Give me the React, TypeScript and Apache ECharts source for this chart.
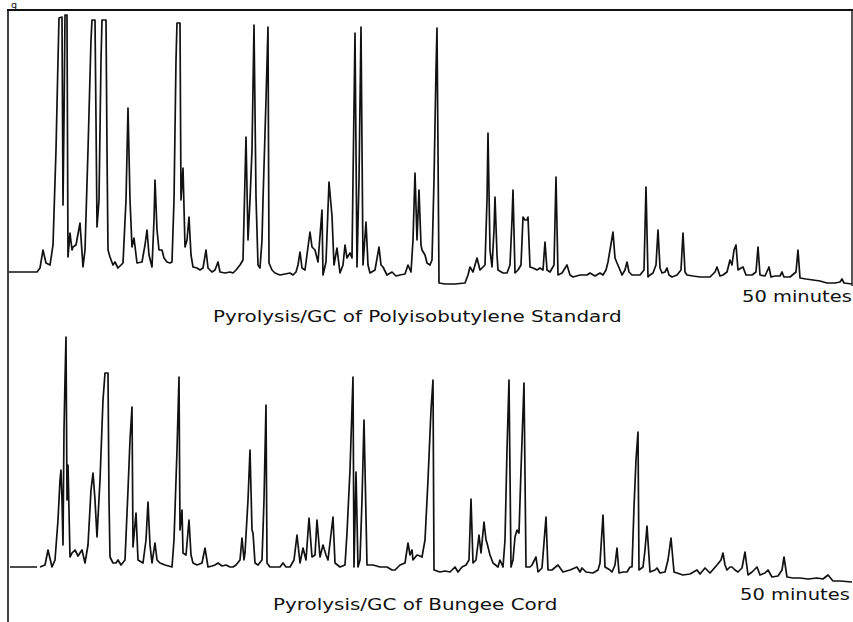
import React, { useEffect, useRef } from "react";
import * as echarts from "echarts";

// Retention time (minutes) and detector response (arbitrary units)
const topTrace: [number, number][] = [
  [0, 7.2], [1.68, 7.2], [1.86, 8.8], [2.04, 16], [2.22, 10.8], [2.46, 10], [2.64, 18], [2.82, 56], [2.94, 92], [3.0, 108.8],
  [3.18, 109.2], [3.24, 34], [3.3, 68], [3.36, 110], [3.48, 110], [3.54, 13.2], [3.66, 22.8], [3.78, 16], [3.84, 17.2], [4.02, 18],
  [4.26, 26.8], [4.44, 9.2], [4.56, 16], [4.74, 56], [4.92, 100], [4.98, 108], [5.16, 108], [5.22, 68], [5.28, 25.2], [5.4, 36],
  [5.52, 92], [5.58, 108], [5.82, 108], [5.88, 56], [5.94, 16], [6.06, 13.2], [6.24, 10], [6.36, 11.2], [6.54, 8.8], [6.72, 10],
  [6.84, 10.8], [7.02, 36], [7.14, 72.8], [7.26, 36], [7.38, 17.2], [7.5, 20.8], [7.68, 10.8], [7.98, 11.2], [8.16, 18], [8.28, 24],
  [8.4, 14], [8.58, 9.2], [8.7, 28], [8.76, 44], [8.88, 24], [9.0, 16], [9.18, 16], [9.3, 12.8], [9.48, 11.2], [9.66, 10.8],
  [9.78, 11.2], [9.9, 36], [10.02, 92], [10.08, 106.8], [10.26, 106.8], [10.32, 36], [10.44, 48.8], [10.56, 17.2], [10.68, 20], [10.8, 29.2],
  [10.92, 14], [11.04, 9.2], [11.28, 8.8], [11.46, 8], [11.64, 8.8], [11.82, 16], [11.94, 8.8], [12.18, 7.2], [12.36, 8], [12.54, 11.2],
  [12.66, 7.2], [12.96, 6.8], [13.26, 7.2], [13.44, 6.8], [13.62, 8], [13.86, 10], [14.04, 12], [14.22, 61.2], [14.34, 20], [14.46, 36],
  [14.58, 56], [14.7, 106], [14.82, 37.2], [14.94, 10], [15.06, 8.8], [15.18, 20], [15.24, 36], [15.42, 76], [15.54, 105.2], [15.6, 10.8],
  [15.78, 8], [15.96, 6.8], [16.26, 6], [16.56, 6.4], [16.86, 6.8], [17.04, 6], [17.22, 7.2], [17.34, 10], [17.46, 15.2], [17.58, 8.8],
  [17.76, 8], [17.94, 17.2], [18.06, 23.2], [18.18, 17.2], [18.36, 16], [18.54, 11.2], [18.78, 32], [18.84, 6], [19.02, 11.2], [19.2, 43.2],
  [19.38, 29.6], [19.5, 10], [19.68, 16.8], [19.86, 6.8], [20.04, 10], [20.16, 18], [20.28, 12.8], [20.46, 14.8], [20.58, 12.8], [20.64, 44],
  [20.76, 102.8], [20.88, 9.2], [21.0, 44], [21.12, 105.2], [21.24, 10], [21.42, 27.2], [21.54, 10], [21.66, 6.8], [21.96, 8], [22.2, 17.2],
  [22.32, 10], [22.44, 9.2], [22.68, 6], [22.98, 7.2], [23.22, 5.6], [23.46, 6], [23.76, 6.4], [23.94, 10], [24.12, 7.2], [24.24, 20],
  [24.36, 46.8], [24.48, 20], [24.6, 40], [24.72, 18], [24.78, 16], [24.96, 14], [25.08, 10.8], [25.26, 10], [25.38, 12], [25.5, 44],
  [25.62, 88], [25.68, 104.8], [25.74, 56], [25.8, 2.8], [26.16, 2.4], [26.76, 2.4], [27.36, 2.8], [27.54, 6], [27.66, 9.2], [27.84, 7.2],
  [28.08, 12.8], [28.26, 8], [28.56, 10], [28.68, 36], [28.74, 62.8], [28.86, 16], [28.98, 9.2], [29.1, 24], [29.16, 37.2], [29.28, 14],
  [29.34, 8], [29.64, 6.8], [29.88, 6.8], [30.06, 10], [30.18, 28], [30.24, 40], [30.36, 6.8], [30.54, 8], [30.72, 10], [30.84, 29.2],
  [30.96, 28], [31.08, 28], [31.14, 29.2], [31.26, 9.2], [31.44, 8.8], [31.68, 8], [31.86, 8.8], [32.04, 8], [32.16, 19.2], [32.28, 8],
  [32.46, 7.2], [32.7, 10], [32.82, 45.2], [32.94, 6], [33.18, 6.8], [33.48, 10], [33.66, 6], [33.84, 5.2], [34.26, 6], [34.68, 6],
  [34.86, 6.8], [35.16, 5.6], [35.46, 6.8], [35.64, 6], [35.82, 8], [35.94, 11.2], [36.06, 16], [36.24, 23.2], [36.36, 12.8], [36.48, 10.8],
  [36.66, 8], [36.78, 6], [36.96, 8], [37.08, 11.2], [37.2, 7.2], [37.38, 6], [37.86, 6], [38.1, 8], [38.22, 41.2], [38.34, 5.2],
  [38.46, 6], [38.64, 6.8], [38.82, 10], [38.94, 24], [39.06, 8.8], [39.18, 6.8], [39.36, 7.2], [39.48, 8.8], [39.6, 6], [39.78, 5.2],
  [40.08, 6], [40.32, 8], [40.44, 22.8], [40.56, 7.2], [40.68, 6], [41.04, 5.6], [41.46, 5.2], [42.06, 5.2], [42.36, 7.2], [42.48, 9.2],
  [42.66, 5.6], [42.84, 6], [43.08, 7.2], [43.26, 12], [43.38, 10], [43.5, 16], [43.62, 18], [43.74, 8], [43.92, 8.8], [44.04, 9.2],
  [44.22, 6], [44.34, 6], [44.58, 6], [44.82, 7.2], [44.94, 17.2], [45.06, 6], [45.36, 5.6], [45.6, 9.2], [45.72, 5.2], [45.96, 5.6],
  [46.26, 5.6], [46.38, 7.2], [46.5, 5.2], [46.86, 5.2], [47.22, 7.2], [47.34, 16], [47.46, 4.8], [47.82, 4.4], [48.24, 4], [48.66, 3.6],
  [49.08, 2.8], [49.56, 2.8], [49.86, 3.2], [49.98, 4.4], [50.1, 2.8], [50.58, 2.4],
];

const bottomTrace: [number, number | null][] = [
  [0.06, 9.2], [1.68, 9.2], [1.77, null],
  [1.86, 9.2], [2.16, 10], [2.34, 16], [2.58, 9.2], [2.76, 12], [2.94, 28], [3.06, 44], [3.12, 48], [3.18, 36], [3.24, 18],
  [3.3, 64], [3.36, 84], [3.42, 101.2], [3.48, 36], [3.54, 50], [3.66, 13.2], [3.78, 14.8], [3.96, 16], [4.14, 13.6], [4.38, 16],
  [4.56, 10.8], [4.74, 18], [4.92, 40], [5.04, 46.8], [5.16, 36], [5.28, 21.2], [5.46, 44], [5.64, 76], [5.76, 86.8], [5.94, 86.8],
  [6.0, 36], [6.06, 13.2], [6.24, 10.8], [6.42, 10.8], [6.54, 12], [6.72, 10], [6.96, 12], [7.14, 40], [7.26, 60], [7.38, 73.2],
  [7.44, 17.2], [7.62, 30.8], [7.74, 12], [8.04, 10.8], [8.22, 20], [8.34, 35.2], [8.46, 18], [8.58, 10.8], [8.76, 18.8], [8.88, 12],
  [9.06, 10.8], [9.36, 10], [9.78, 9.2], [9.9, 20], [10.08, 56], [10.2, 85.2], [10.26, 24], [10.38, 32], [10.44, 14.8], [10.62, 14],
  [10.8, 28], [10.92, 14], [11.04, 10.8], [11.28, 10], [11.58, 10.8], [11.76, 16.8], [11.94, 9.2], [12.18, 9.6], [12.36, 10], [12.54, 10.8],
  [12.78, 9.6], [13.02, 10], [13.26, 9.2], [13.44, 9.2], [13.62, 10], [13.86, 12], [13.98, 20.8], [14.1, 12], [14.16, 14.8], [14.34, 36],
  [14.46, 56], [14.58, 24], [14.64, 22.8], [14.76, 10.8], [14.94, 10], [15.18, 12], [15.3, 36], [15.42, 74], [15.48, 10.8], [15.66, 9.2],
  [15.96, 9.2], [16.26, 9.2], [16.44, 10.8], [16.62, 9.2], [16.86, 9.2], [17.1, 12], [17.28, 22], [17.46, 10.8], [17.64, 16.8], [17.82, 12],
  [18.0, 28.8], [18.18, 13.2], [18.36, 14], [18.48, 28], [18.66, 13.2], [18.84, 18], [19.02, 14], [19.14, 12], [19.44, 29.2], [19.56, 10.8],
  [19.86, 9.2], [20.16, 10], [20.28, 22.8], [20.46, 48], [20.64, 85.2], [20.7, 9.2], [20.82, 47.2], [20.94, 9.2], [21.06, 12], [21.18, 36],
  [21.3, 68], [21.48, 10], [21.84, 10], [22.26, 9.2], [22.68, 9.2], [22.98, 8], [23.16, 8], [23.46, 10], [23.76, 10.8], [23.94, 18.8],
  [24.06, 14], [24.18, 16], [24.24, 12], [24.48, 14], [24.66, 13.6], [24.78, 13.2], [24.96, 20], [25.14, 44], [25.32, 72], [25.44, 84],
  [25.5, 8], [25.86, 7.2], [26.16, 7.6], [26.46, 7.2], [26.76, 9.2], [26.94, 7.2], [27.18, 9.2], [27.42, 10], [27.6, 12], [27.72, 36.4],
  [27.84, 10.8], [28.02, 12], [28.2, 22], [28.32, 14.8], [28.5, 27.2], [28.62, 20], [28.68, 18.8], [28.86, 14], [29.04, 10.8], [29.34, 9.2],
  [29.46, 12], [29.64, 9.2], [29.76, 20], [29.88, 56], [30.0, 84], [30.12, 9.2], [30.24, 12], [30.36, 21.2], [30.48, 24], [30.6, 22.8],
  [30.72, 48], [30.9, 82.8], [31.02, 9.2], [31.26, 9.2], [31.38, 10], [31.62, 13.2], [31.74, 7.2], [31.98, 8.8], [32.22, 29.2], [32.34, 8],
  [32.58, 8], [32.94, 10], [33.24, 7.2], [33.66, 8], [34.08, 9.2], [34.26, 7.2], [34.38, 8.8], [34.62, 7.2], [35.04, 6.8], [35.34, 8],
  [35.46, 10.8], [35.64, 30], [35.76, 9.2], [36.06, 8], [36.18, 7.2], [36.36, 10], [36.48, 16.8], [36.6, 6.8], [36.84, 7.2], [37.08, 7.2],
  [37.26, 9.2], [37.38, 9.2], [37.5, 33.2], [37.62, 52], [37.74, 63.2], [37.8, 8], [38.04, 9.2], [38.16, 16], [38.28, 25.6], [38.46, 7.2],
  [38.76, 8], [38.88, 8.8], [39.06, 6.8], [39.36, 7.2], [39.54, 12], [39.72, 20.8], [39.9, 7.2], [40.26, 6.4], [40.44, 6], [40.86, 6.4],
  [41.28, 8], [41.46, 6.4], [41.76, 8.8], [42.06, 6.8], [42.48, 10], [42.72, 12], [42.84, 14.8], [42.96, 10], [43.08, 8], [43.26, 9.2],
  [43.38, 9.2], [43.56, 8], [43.74, 7.2], [43.98, 8.8], [44.16, 15.2], [44.34, 6], [44.58, 7.2], [44.88, 9.2], [45.06, 6], [45.36, 6.8],
  [45.54, 8], [45.78, 5.2], [46.14, 5.6], [46.38, 8], [46.5, 13.2], [46.68, 5.2], [47.04, 4.8], [47.46, 4.8], [47.94, 4.4], [48.48, 4.8],
  [48.84, 4.4], [49.14, 6], [49.44, 3.6], [49.86, 3.6], [50.58, 3.2],
];

const titles = ["Pyrolysis/GC of Polyisobutylene Standard", "Pyrolysis/GC of Bungee Cord"];
const timeLabel = "50 minutes";
const cornerMark = "g";
const timeMax = 50.58;
const signalMax = 110;

const INK = "#111111";
const FONT = "DejaVu Sans";

export default function App() {
  const ref = useRef<HTMLDivElement>(null);

  useEffect(() => {
    if (!ref.current) return;
    const chart = echarts.init(ref.current, undefined, { renderer: "svg" });

    const hiddenX = (gridIndex: number) => ({
      type: "value" as const,
      gridIndex,
      min: 0,
      max: timeMax,
      axisLine: { show: false },
      axisTick: { show: false },
      axisLabel: { show: false },
      splitLine: { show: false },
    });
    const hiddenY = (gridIndex: number) => ({
      type: "value" as const,
      gridIndex,
      min: 0,
      max: signalMax,
      axisLine: { show: false },
      axisTick: { show: false },
      axisLabel: { show: false },
      splitLine: { show: false },
    });

    const text = (str: string, x: number, y: number, sx: number, size = 15) => ({
      type: "text",
      x,
      y,
      scaleX: sx,
      silent: true,
      style: {
        text: str,
        fontSize: size,
        fontFamily: FONT,
        fill: INK,
        align: "left",
        verticalAlign: "middle",
      },
    });

    chart.setOption({
      animation: false,
      backgroundColor: "#ffffff",
      grid: [
        { left: 9, width: 843, top: 15, height: 275 },
        { left: 9, width: 843, top: 315, height: 275 },
      ],
      xAxis: [hiddenX(0), hiddenX(1)],
      yAxis: [hiddenY(0), hiddenY(1)],
      series: [
        {
          type: "line",
          xAxisIndex: 0,
          yAxisIndex: 0,
          data: topTrace,
          showSymbol: false,
          clip: false,
          lineStyle: { color: INK, width: 1.7, join: "round" },
        },
        {
          type: "line",
          xAxisIndex: 1,
          yAxisIndex: 1,
          data: bottomTrace.map(([t, v]) => [t, v === null ? "-" : v]),
          showSymbol: false,
          clip: false,
          connectNulls: false,
          lineStyle: { color: INK, width: 1.7, join: "round" },
        },
      ],
      graphic: [
        { type: "line", silent: true, shape: { x1: 7, y1: 10, x2: 853, y2: 10 }, style: { stroke: INK, lineWidth: 2 } },
        { type: "line", silent: true, shape: { x1: 8, y1: 9, x2: 8, y2: 622 }, style: { stroke: INK, lineWidth: 1.6 } },
        { type: "line", silent: true, shape: { x1: 852, y1: 9, x2: 852, y2: 286 }, style: { stroke: INK, lineWidth: 1.4 } },
        text(cornerMark, 11, 5, 1.2, 8),
        text(timeLabel, 742, 296.5, 1.3),
        text(titles[0], 213, 316.5, 1.33),
        text(timeLabel, 740, 595, 1.3),
        text(titles[1], 273, 604.5, 1.33),
      ],
    });

    return () => chart.dispose();
  }, []);

  return (
    <div
      ref={ref}
      style={{ position: "absolute", left: 0, top: 0, width: 853, height: 622, background: "#fff" }}
    />
  );
}
